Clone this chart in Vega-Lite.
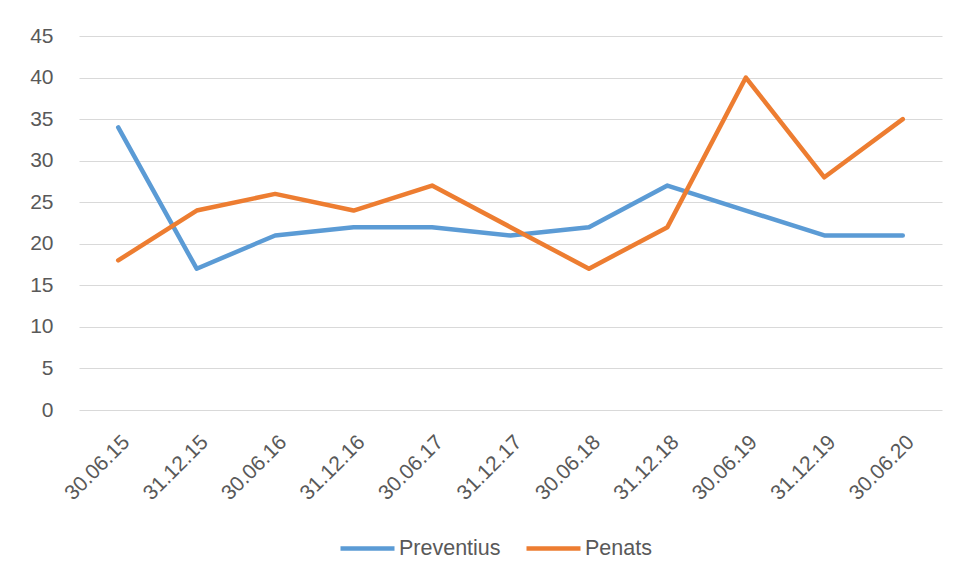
{
  "$schema": "https://vega.github.io/schema/vega-lite/v6.json",
  "autosize": {"type": "none"},
  "width": 863,
  "height": 374,
  "padding": {"left": 79, "top": 36, "right": 22, "bottom": 170},
  "background": "white",
  "data": {"values": [
    {"date": "30.06.15", "series": "Preventius", "value": 34},
    {"date": "31.12.15", "series": "Preventius", "value": 17},
    {"date": "30.06.16", "series": "Preventius", "value": 21},
    {"date": "31.12.16", "series": "Preventius", "value": 22},
    {"date": "30.06.17", "series": "Preventius", "value": 22},
    {"date": "31.12.17", "series": "Preventius", "value": 21},
    {"date": "30.06.18", "series": "Preventius", "value": 22},
    {"date": "31.12.18", "series": "Preventius", "value": 27},
    {"date": "30.06.19", "series": "Preventius", "value": 24},
    {"date": "31.12.19", "series": "Preventius", "value": 21},
    {"date": "30.06.20", "series": "Preventius", "value": 21},
    {"date": "30.06.15", "series": "Penats", "value": 18},
    {"date": "31.12.15", "series": "Penats", "value": 24},
    {"date": "30.06.16", "series": "Penats", "value": 26},
    {"date": "31.12.16", "series": "Penats", "value": 24},
    {"date": "30.06.17", "series": "Penats", "value": 27},
    {"date": "31.12.17", "series": "Penats", "value": 22},
    {"date": "30.06.18", "series": "Penats", "value": 17},
    {"date": "31.12.18", "series": "Penats", "value": 22},
    {"date": "30.06.19", "series": "Penats", "value": 40},
    {"date": "31.12.19", "series": "Penats", "value": 28},
    {"date": "30.06.20", "series": "Penats", "value": 35}
  ]},
  "mark": {"type": "line", "strokeWidth": 4.5, "strokeCap": "round", "strokeJoin": "round"},
  "encoding": {
    "x": {
      "field": "date", "type": "ordinal", "sort": null,
      "scale": {"type": "point", "padding": 0.5},
      "axis": {"title": null, "labelAngle": -45, "labelPadding": 21, "ticks": false, "domain": false, "grid": false, "labelFontSize": 21}
    },
    "y": {
      "field": "value", "type": "quantitative",
      "scale": {"domain": [0, 45], "nice": false},
      "axis": {"title": null, "values": [0, 5, 10, 15, 20, 25, 30, 35, 40, 45], "labelPadding": 26, "ticks": false, "domain": false, "grid": true, "gridColor": "#d9d9d9", "gridWidth": 1.2, "labelFontSize": 21}
    },
    "color": {
      "field": "series", "type": "nominal",
      "scale": {"domain": ["Preventius", "Penats"], "range": ["#5B9BD5", "#ED7D31"]},
      "legend": {"title": null, "orient": "none", "direction": "horizontal", "legendX": 259, "legendY": 483, "symbolType": "stroke", "symbolSize": 2916, "symbolStrokeWidth": 4.5, "labelOffset": 2, "columnPadding": 16}
    }
  },
  "config": {
    "font": "Liberation Sans",
    "view": {"stroke": null},
    "axis": {"labelFont": "Liberation Sans", "labelColor": "#595959"},
    "legend": {"labelFont": "Liberation Sans", "labelFontSize": 21.5, "labelColor": "#595959"}
  }
}
